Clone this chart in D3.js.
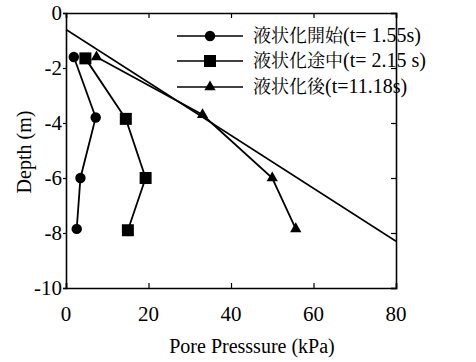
<!DOCTYPE html>
<html><head><script src="https://cdn.jsdelivr.net/npm/d3@7"></script></head>
<body style="margin:0">
<svg width="476" height="362" id="mainsvg"></svg>
<script>
  // data: [pore pressure kPa, depth m]
  const seriesNames = ['液状化開始', '液状化途中', '液状化後'];
  const seriesTimes = ['(t= 1.55s)', '(t= 2.15 s)', '(t=11.18s)'];
  const startData = [[1.9, -1.6], [7.2, -3.8], [3.5, -6.0], [2.6, -7.85]];
  const middleData = [[4.7, -1.65], [14.5, -3.85], [19.3, -6.0], [15.0, -7.9]];
  const afterData = [[7.4, -1.6], [33.1, -3.7], [50.0, -6.0], [55.7, -7.85]];
  const refLine = [[0, -0.6], [80, -8.3]];
  const xTicks = [0, 20, 40, 60, 80];
  const yTicks = [0, -2, -4, -6, -8, -10];

  const serif = "'Liberation Serif'";
  const cjk = "'Noto Serif CJK JP'";
  const svg = d3.select('#mainsvg');
  const margin = {top: 13, right: 80, bottom: 74, left: 66};
  const width = +svg.attr('width');
  const height = +svg.attr('height');
  const innerWidth = width - margin.left - margin.right;
  const innerHeight = height - margin.top - margin.bottom;

  const xScale = d3.scaleLinear().domain([0, 80]).range([0, innerWidth]);
  const yScale = d3.scaleLinear().domain([0, -10]).range([0, innerHeight]);

  // text first, at the svg's top level
  svg.selectAll('.xlab').data(xTicks).enter().append('text')
    .attr('x', d => margin.left + xScale(d))
    .attr('y', margin.top + innerHeight + 33)
    .attr('text-anchor', 'middle')
    .style('font-family', serif)
    .style('font-size', '21px')
    .text(d => d);
  svg.selectAll('.ylab').data(yTicks).enter().append('text')
    .attr('x', margin.left - 4)
    .attr('y', d => margin.top + yScale(d) + 7)
    .attr('text-anchor', 'end')
    .style('font-family', serif)
    .style('font-size', '21px')
    .text(d => d);
  svg.append('text')
    .attr('x', 252).attr('y', 353)
    .attr('text-anchor', 'middle')
    .style('font-family', serif)
    .style('font-size', '20px')
    .text('Pore Presssure (kPa)');
  svg.append('text')
    .attr('transform', 'translate(31, 152) rotate(-90)')
    .attr('text-anchor', 'middle')
    .style('font-family', serif)
    .style('font-size', '20px')
    .text('Depth (m)');

  const g = svg.append('g').attr('transform', `translate(${margin.left}, ${margin.top})`);

  // frame with ticks: inward on top/bottom/right, outward on left
  const xAxisB = d3.axisBottom(xScale).tickValues(xTicks).tickSize(-5).tickFormat('');
  const xAxisT = d3.axisTop(xScale).tickValues(xTicks).tickSize(-5).tickFormat('');
  const yAxisL = d3.axisLeft(yScale).tickValues(yTicks).tickSize(3).tickFormat('');
  const yAxisR = d3.axisRight(yScale).tickValues(yTicks).tickSize(-5).tickFormat('');
  g.append('g').attr('transform', `translate(0, ${innerHeight})`).call(xAxisB);
  g.append('g').call(xAxisT);
  g.append('g').call(yAxisL);
  g.append('g').attr('transform', `translate(${innerWidth}, 0)`).call(yAxisR);
  g.selectAll('.domain').attr('stroke', '#000').attr('stroke-width', 1.6);
  g.selectAll('.tick line').attr('stroke', '#000').attr('stroke-width', 1.2);

  const line = d3.line().x(d => xScale(d[0])).y(d => yScale(d[1]));

  g.append('path').datum(refLine)
    .attr('fill', 'none').attr('stroke', '#000').attr('stroke-width', 1.5)
    .attr('d', line);

  const symbols = [d3.symbolCircle, d3.symbolSquare, d3.symbolTriangle];
  const sizes = [85, 144, 55];
  const allSeries = [startData, middleData, afterData];

  allSeries.forEach((data, i) => {
    g.append('path').datum(data)
      .attr('fill', 'none').attr('stroke', '#000').attr('stroke-width', 1.8)
      .attr('d', line);
    g.selectAll('.m' + i).data(data).enter().append('path')
      .attr('transform', d => `translate(${xScale(d[0])}, ${yScale(d[1])})`)
      .attr('d', d3.symbol().type(symbols[i]).size(sizes[i]))
      .attr('fill', '#000');
  });

  // legend
  const legendY = [36, 61, 87];
  seriesNames.forEach((name, i) => {
    svg.append('line').attr('x1', 177).attr('x2', 243)
      .attr('y1', legendY[i]).attr('y2', legendY[i])
      .attr('stroke', '#000').attr('stroke-width', 1.3);
    svg.append('path').attr('transform', `translate(210, ${legendY[i]})`)
      .attr('d', d3.symbol().type(symbols[i]).size(sizes[i]))
      .attr('fill', '#000');
    const t = svg.append('text').attr('x', 253).attr('y', legendY[i] + 6);
    t.append('tspan')
      .style('font-family', cjk)
      .style('font-size', '18px')
      .text(name);
    t.append('tspan')
      .style('font-family', serif)
      .style('font-size', '20px')
      .text(seriesTimes[i]);
  });
</script></body></html>
